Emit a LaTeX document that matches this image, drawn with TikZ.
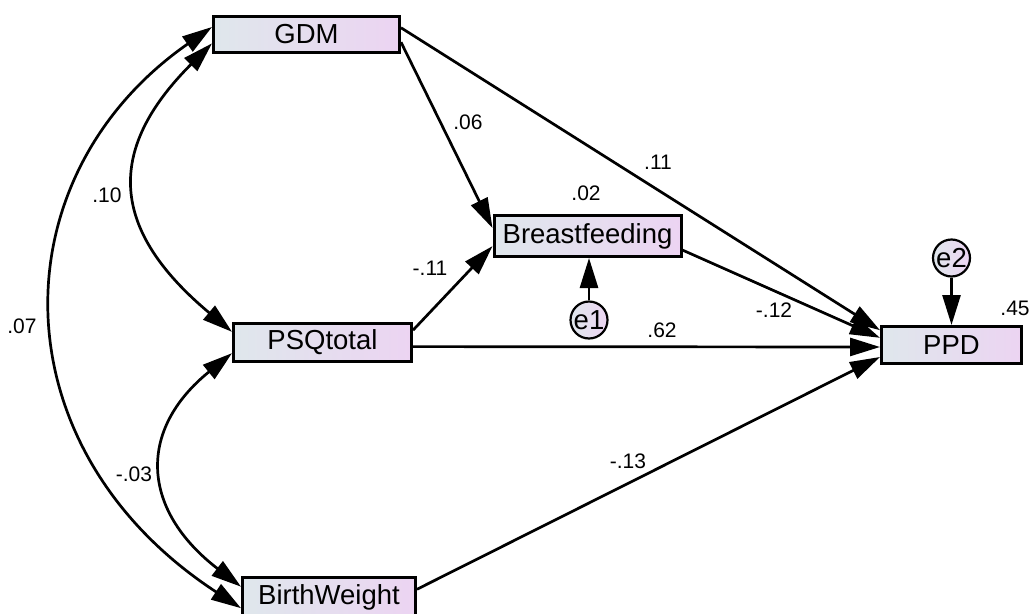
\documentclass[tikz,border=0pt]{standalone}
\usepackage{fontspec}
\setmainfont{Liberation Sans}
\usetikzlibrary{arrows.meta,calc}
\definecolor{boxL}{HTML}{DFE7EC}
\definecolor{boxR}{HTML}{ECD4F2}
\begin{document}
\begin{tikzpicture}[x=1pt,y=-1pt,
  var/.style={draw=black,line width=3pt,left color=boxL,right color=boxR,
    inner sep=0pt,font=\fontsize{27.5}{32}\selectfont},
  err/.style={circle,draw=black,line width=2.2pt,left color=boxL,right color=boxR,
    inner sep=0pt,minimum size=37pt,font=\fontsize{27.5}{32}\selectfont},
  coef/.style={font=\fontsize{21}{24}\selectfont,inner sep=0pt},
  path/.style={line width=2.7pt,-{Triangle[length=30pt,width=18pt]}},
  cov/.style={line width=2.7pt,{Triangle[length=30pt,width=18pt]}-{Triangle[length=30pt,width=18pt]}}
]
\useasboundingbox (0,0) rectangle (1032,613);
% variables
\node[var,minimum width=186pt,minimum height=36pt] (gdm) at (306.5,34) {GDM};
\node[var,minimum width=187pt,minimum height=41pt] (bf) at (587.5,236) {Breastfeeding};
\node[var,minimum width=178pt,minimum height=38pt] (psq) at (322.5,342.5) {PSQtotal};
\node[var,minimum width=173pt,minimum height=40pt] (bw) at (329,597) {BirthWeight};
\node[var,minimum width=140pt,minimum height=37pt] (ppd) at (951.5,345) {PPD};
\node[err] (e1) at (589,320) {e1};
\node[err] (e2) at (951.5,258) {e2};
% directed paths
\draw[path] ($(gdm.north east)!0.71!(gdm.south east)$) -- ($(bf.north west)!0.32!(bf.south west)$);
\draw[path] ($(gdm.north east)!0.34!(gdm.south east)$) -- ($(ppd.north west)!0.13!(ppd.south west)$);
\draw[path] ($(psq.north east)!0.2!(psq.south east)$) -- ($(bf.north west)!0.73!(bf.south west)$);
\draw[path] ($(bf.north east)!0.82!(bf.south east)$) -- ($(ppd.north west)!0.32!(ppd.south west)$);
\draw[path] ($(psq.north east)!0.6!(psq.south east)$) -- ($(ppd.north west)!0.55!(ppd.south west)$);
\draw[path] ($(bw.north east)!0.32!(bw.south east)$) -- ($(ppd.north west)!0.8!(ppd.south west)$);
\draw[path] (e1) -- (e1 |- bf.south);
\draw[path] (e2) -- (e2 |- ppd.north);
% covariances
\draw[cov] ($(gdm.north west)!0.74!(gdm.south west)$) .. controls +(-107,107) and +(-122,-102) .. ($(psq.north west)!0.24!(psq.south west)$);
\draw[cov] ($(gdm.north west)!0.32!(gdm.south west)$) .. controls +(-215,150) and +(-245,-160) .. ($(bw.north west)!0.76!(bw.south west)$);
\draw[cov] ($(psq.north west)!0.76!(psq.south west)$) .. controls +(-95,77) and +(-100,-77) .. ($(bw.north west)!0.26!(bw.south west)$);
% coefficients
\node[coef] (c1) at (468,122) {.06};
\node[coef] (c2) at (658,162) {.11};
\node[coef] (c3) at (107,195) {.10};
\node[coef] (c4) at (586,193) {.02};
\node[coef] (c5) at (430,268) {-.11};
\node[coef] (c6) at (774,310) {-.12};
\node[coef] (c7) at (662,330) {.62};
\node[coef] (c8) at (22,326) {.07};
\node[coef] (c9) at (134,474) {-.03};
\node[coef] (c10) at (628,461) {-.13};
\node[coef] (c11) at (1015,308) {.45};
\end{tikzpicture}
\end{document}
